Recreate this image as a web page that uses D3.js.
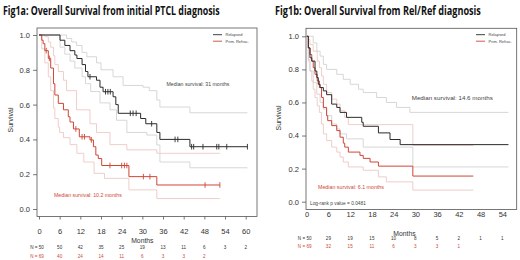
<!DOCTYPE html>
<html>
<head>
<meta charset="utf-8">
<script src="https://cdn.jsdelivr.net/npm/d3@7/dist/d3.min.js"></script>
<style>
  body { margin: 0; background: #fff; }
  svg { display: block; }
</style>
</head>
<body>
<script>
// Fig1a - survival from initial PTCL diagnosis, [months, survival]
const aRel = [[0,1],[6.1,0.97],[7.5,0.94],[9,0.91],[10.4,0.885],[11,0.865],[12.5,0.83],[13.5,0.79],[14.2,0.76],[16.7,0.74],[17.7,0.70],[18.6,0.674],[21.5,0.645],[22.3,0.60],[23,0.55],[29.5,0.52],[31,0.49],[34.2,0.44],[35.1,0.40],[43.8,0.358],[60.5,0.358]];
const aRelHi = [[0,1],[8,0.98],[9.5,0.96],[10.9,0.94],[12.5,0.9],[13.9,0.875],[16.7,0.84],[18,0.8],[21.5,0.76],[24.4,0.71],[30.2,0.70],[32,0.68],[34.2,0.626],[35.1,0.586],[43.8,0.553],[60.5,0.553]];
const aRelLo = [[0,1],[6.1,0.93],[7.5,0.89],[9,0.85],[10.4,0.81],[12.5,0.76],[13.5,0.72],[15,0.675],[17.7,0.61],[20.6,0.57],[22.5,0.51],[25.5,0.44],[31.3,0.425],[34.2,0.368],[35.1,0.27],[43.8,0.237],[60.5,0.237]];
const aRelCens = [14.8, 19.3, 20, 20.7, 26.5, 27.3, 28.2, 32.7, 39.5, 40.3, 44.3, 44.9, 47.6, 51.6, 52.2, 54.5, 60.5];

const aRef = [[0,1],[0.8,0.97],[1.2,0.95],[1.7,0.91],[2.7,0.866],[3.4,0.81],[4.2,0.72],[4.6,0.655],[5.6,0.607],[7.1,0.57],[8.5,0.53],[9,0.50],[10,0.46],[11.7,0.415],[14.8,0.397],[15.8,0.358],[16.5,0.31],[17.2,0.29],[18.2,0.25],[26.1,0.186],[34.2,0.138],[52.5,0.138]];
const aRefHi = [[0,1],[1.7,0.99],[2.7,0.96],[3.4,0.93],[4.2,0.88],[4.6,0.83],[5.6,0.79],[7.1,0.74],[8,0.68],[10.9,0.57],[14.8,0.49],[16.7,0.44],[20.6,0.37],[25.5,0.34],[34.2,0.32],[52.5,0.32]];
const aRefLo = [[0,1],[0.8,0.92],[1.7,0.84],[2.7,0.76],[3.4,0.68],[4.2,0.58],[4.6,0.52],[5.6,0.47],[6,0.44],[7.1,0.41],[9,0.37],[11,0.32],[13,0.27],[16,0.205],[19,0.176],[26.1,0.11],[34.2,0.06],[52.5,0.06]];
const aRefCens = [2.1, 3.0, 10.7, 12.5, 13.2, 15.2, 20.6, 24, 24.8, 25.5, 30.3, 32.2, 48.2, 52.5];

const aTicks = [0, 6, 12, 18, 24, 30, 36, 42, 48, 54, 60];
const aRiskRel = [50, 50, 42, 35, 25, 19, 13, 11, 6, 3, 2];
const aRiskRef = [69, 40, 24, 14, 11, 6, 3, 3, 2];

// Fig1b - survival from Rel/Ref diagnosis
const bRel = [[0,1],[0.45,0.93],[0.9,0.87],[1.4,0.85],[2.3,0.79],[2.8,0.75],[3.2,0.71],[3.7,0.69],[4.6,0.67],[5.5,0.647],[6.9,0.59],[8.3,0.57],[9.2,0.54],[11,0.51],[15.2,0.48],[15.6,0.456],[19.8,0.416],[23,0.376],[25.8,0.345],[55.7,0.345]];
const bRelHi = [[0,1],[1.8,0.96],[2.8,0.91],[3.7,0.88],[4.6,0.83],[5.5,0.80],[8.3,0.77],[10.1,0.74],[12,0.71],[14.3,0.68],[15.6,0.66],[19.3,0.63],[22,0.60],[24.8,0.57],[28.5,0.54],[55.7,0.54]];
const bRelLo = [[0,1],[0.45,0.86],[0.9,0.79],[1.8,0.72],[2.8,0.65],[3.7,0.60],[4.6,0.56],[5.5,0.52],[6.9,0.47],[8.3,0.44],[9.2,0.41],[11,0.38],[15.6,0.33],[29.3,0.21],[55.7,0.21]];

const bRef = [[0,1],[0.45,0.93],[0.9,0.89],[1.4,0.85],[1.8,0.81],[2.3,0.77],[2.9,0.73],[3.5,0.69],[4.1,0.63],[4.6,0.57],[5.5,0.52],[5.8,0.49],[6.9,0.46],[8.3,0.43],[9.2,0.39],[10.1,0.354],[10.5,0.33],[11.5,0.30],[14.7,0.28],[15.6,0.262],[17.5,0.24],[19.8,0.215],[29.3,0.155],[46,0.155]];
const bRefHi = [[0,1],[0.45,0.98],[0.9,0.95],[1.8,0.91],[2.9,0.85],[3.5,0.81],[4.1,0.76],[4.6,0.71],[5.5,0.66],[6.9,0.62],[8.3,0.59],[9.2,0.55],[10.5,0.51],[11.5,0.466],[29.3,0.34],[46,0.34]];
const bRefLo = [[0,1],[0.45,0.85],[0.9,0.79],[1.4,0.73],[1.8,0.68],[2.3,0.63],[2.9,0.58],[3.5,0.54],[4.1,0.47],[4.6,0.41],[5.5,0.37],[6.9,0.33],[8.3,0.30],[9.2,0.27],[10.1,0.24],[11.5,0.21],[15.6,0.19],[19.8,0.15],[22,0.12],[29.3,0.07],[46,0.07]];

const bTicks = [0, 6, 12, 18, 24, 30, 36, 42, 48, 54];
const bRiskRel = [50, 29, 19, 15, 10, 8, 5, 2, 1, 1];
const bRiskRef = [69, 32, 15, 11, 6, 3, 3, 1];

const survTicks = [0, 0.2, 0.4, 0.6, 0.8, 1.0];
const legendLabels = ['Relapsed', 'Prim. Refrac.'];

const COLORS = {
    rel: '#2b2b2b',
    ref: '#cf4636',
    ciRel: '#d2d2d2',
    ciRef: '#ecc8c4',
    box: '#555',
    text: '#333',
};
const FONT = '"Liberation Sans", Arial, sans-serif';

const svg = d3.select('body').append('svg')
    .attr('width', 520)
    .attr('height', 260)
    .style('font-family', FONT);

function survAt(curve, t) {
    const i = d3.bisector((d) => d[0]).right(curve, t) - 1;
    return curve[Math.max(0, i)][1];
}

function addText(g, txt, x, y, opts = {}) {
    const el = g.append('text')
        .attr('x', x)
        .attr('y', y)
        .attr('font-size', opts.size || 6)
        .attr('fill', opts.color || COLORS.text)
        .attr('text-anchor', opts.anchor || 'start')
        .text(txt);
    if (opts.weight) el.attr('font-weight', opts.weight);
    if (opts.family) el.attr('font-family', opts.family);
    if (opts.len) {
        // squeeze horizontally to the measured width instead of textLength
        const natural = el.node().getComputedTextLength();
        const k = opts.len / natural;
        el.attr('x', 0).attr('y', 0)
            .attr('transform', `translate(${x},${y}) scale(${k},1)`);
    }
    return el;
}

function drawPanel(p) {
    const g = svg.append('g');
    const x = d3.scaleLinear().domain([0, p.xMax]).range(p.xRange);
    const y = d3.scaleLinear().domain([0, 1]).range(p.yRange);

    addText(g, p.title, p.titleX, 15, {
        size: 12.5, weight: 'bold', color: '#111', len: p.titleLen,
        family: '"Open Sans", "Noto Sans", sans-serif',
    });

    g.append('rect')
        .attr('x', p.box[0]).attr('y', p.box[1])
        .attr('width', p.box[2] - p.box[0]).attr('height', p.box[3] - p.box[1])
        .attr('fill', 'none').attr('stroke', COLORS.box).attr('stroke-width', 0.8);

    const yAxis = g.append('g')
        .attr('transform', `translate(${p.box[0]},0)`)
        .call(d3.axisLeft(y).tickValues(survTicks).tickFormat(d3.format('.1f')).tickSize(4).tickPadding(3));
    yAxis.select('.domain').remove();
    yAxis.selectAll('line').attr('stroke', COLORS.box).attr('stroke-width', 0.8);
    yAxis.selectAll('text').attr('font-size', 7.5).attr('fill', COLORS.text).attr('font-family', FONT);

    const xAxis = g.append('g')
        .attr('transform', `translate(0,${p.box[3]})`)
        .call(d3.axisBottom(x).tickValues(p.ticks).tickSize(p.tickLen).tickPadding(p.tickPad));
    xAxis.select('.domain').remove();
    xAxis.selectAll('line').attr('stroke', COLORS.box).attr('stroke-width', 0.8);
    xAxis.selectAll('text').attr('font-size', 7.5).attr('fill', COLORS.text).attr('font-family', FONT);

    addText(g, 'Months', x(p.xMax / 2), p.monthsY, { size: 6.8, anchor: 'middle' });

    g.append('text')
        .attr('transform', `translate(${p.survLabel[0]},${p.survLabel[1]}) rotate(-90)`)
        .attr('text-anchor', 'middle')
        .attr('font-size', 7)
        .attr('fill', COLORS.text)
        .text('Survival');

    const line = d3.line()
        .x((d) => x(d[0]))
        .y((d) => y(d[1]))
        .curve(d3.curveStepAfter);

    const series = [
        { data: p.refHi, color: COLORS.ciRef, w: 0.9 },
        { data: p.refLo, color: COLORS.ciRef, w: 0.9 },
        { data: p.relHi, color: COLORS.ciRel, w: 0.9 },
        { data: p.relLo, color: COLORS.ciRel, w: 0.9 },
        { data: p.ref, color: COLORS.ref, w: 1 },
        { data: p.rel, color: COLORS.rel, w: 1 },
    ];
    g.selectAll('path.km')
        .data(series)
        .join('path')
        .attr('class', 'km')
        .attr('d', (d) => line(d.data))
        .attr('fill', 'none')
        .attr('stroke', (d) => d.color)
        .attr('stroke-width', (d) => d.w);

    const marks = [];
    p.relCens.forEach((t) => marks.push({ t, s: survAt(p.rel, t), color: COLORS.rel }));
    p.refCens.forEach((t) => marks.push({ t, s: survAt(p.ref, t), color: COLORS.ref }));
    g.selectAll('line.cens')
        .data(marks)
        .join('line')
        .attr('class', 'cens')
        .attr('x1', (d) => x(d.t)).attr('x2', (d) => x(d.t))
        .attr('y1', (d) => y(d.s) - 2.8).attr('y2', (d) => y(d.s) + 2.8)
        .attr('stroke', (d) => d.color)
        .attr('stroke-width', 0.9);

    // legend
    legendLabels.forEach((lab, i) => {
        const ly = p.legend[1] + i * 6.5;
        g.append('line')
            .attr('x1', p.legend[0]).attr('x2', p.legend[0] + 9)
            .attr('y1', ly).attr('y2', ly)
            .attr('stroke', i === 0 ? COLORS.rel : COLORS.ref)
            .attr('stroke-width', 0.9);
        addText(g, lab, p.legend[0] + 12.5, ly + 1.4, { size: 4, color: '#444' });
    });

    // annotations
    p.notes.forEach((n) => addText(g, n.text, n.x, n.y, { size: n.size, color: n.color, len: n.len }));

    // numbers at risk
    const riskRows = [
        { vals: p.riskRel, color: COLORS.text, y: p.riskY[0] },
        { vals: p.riskRef, color: COLORS.ref, y: p.riskY[1] },
    ];
    riskRows.forEach((row) => {
        row.vals.forEach((v, i) => {
            const label = i === 0 ? `N = ${v}` : `${v}`;
            addText(g, label, x(p.ticks[i]) - (i === 0 ? 2 : 0), row.y, {
                size: 4.6, anchor: 'middle', color: row.color,
            });
        });
    });
}

drawPanel({
    title: 'Fig1a: Overall Survival from initial PTCL diagnosis',
    titleX: 3, titleLen: 217,
    xMax: 60, xRange: [39, 245.7], yRange: [209, 35],
    box: [37, 28, 257, 216.5],
    ticks: aTicks, tickLen: 3, tickPad: 9,
    monthsY: 243, riskY: [249, 257.5],
    survLabel: [12.5, 120],
    legend: [213, 34.7],
    rel: aRel, relHi: aRelHi, relLo: aRelLo, relCens: aRelCens,
    ref: aRef, refHi: aRefHi, refLo: aRefLo, refCens: aRefCens,
    riskRel: aRiskRel, riskRef: aRiskRef,
    notes: [
        { text: 'Median survival: 31 months', x: 166.5, y: 86.2, size: 5.4, color: '#444', len: 63 },
        { text: 'Median survival: 10.2 months', x: 54, y: 196.8, size: 5.4, color: COLORS.ref, len: 68 },
    ],
});

drawPanel({
    title: 'Fig1b: Overall Survival from Rel/Ref diagnosis',
    titleX: 275, titleLen: 206,
    xMax: 54, xRange: [306.7, 502.3], yRange: [201.7, 36.3],
    box: [306, 28.3, 516.7, 209.5],
    ticks: bTicks, tickLen: 0, tickPad: 2.5,
    monthsY: 235.8, riskY: [240, 248],
    survLabel: [281, 118],
    legend: [476, 34.7],
    rel: bRel, relHi: bRelHi, relLo: bRelLo, relCens: [],
    ref: bRef, refHi: bRefHi, refLo: bRefLo, refCens: [],
    riskRel: bRiskRel, riskRef: bRiskRef,
    notes: [
        { text: 'Median survival: 14.6 months', x: 411.7, y: 99.6, size: 5.4, color: '#444', len: 81 },
        { text: 'Median survival: 6.1 months', x: 318, y: 188.6, size: 5.4, color: COLORS.ref, len: 66 },
        { text: 'Log-rank p value = 0.0481', x: 310, y: 205.2, size: 4.6, color: '#444', len: 56 },
    ],
});
</script>
</body>
</html>
